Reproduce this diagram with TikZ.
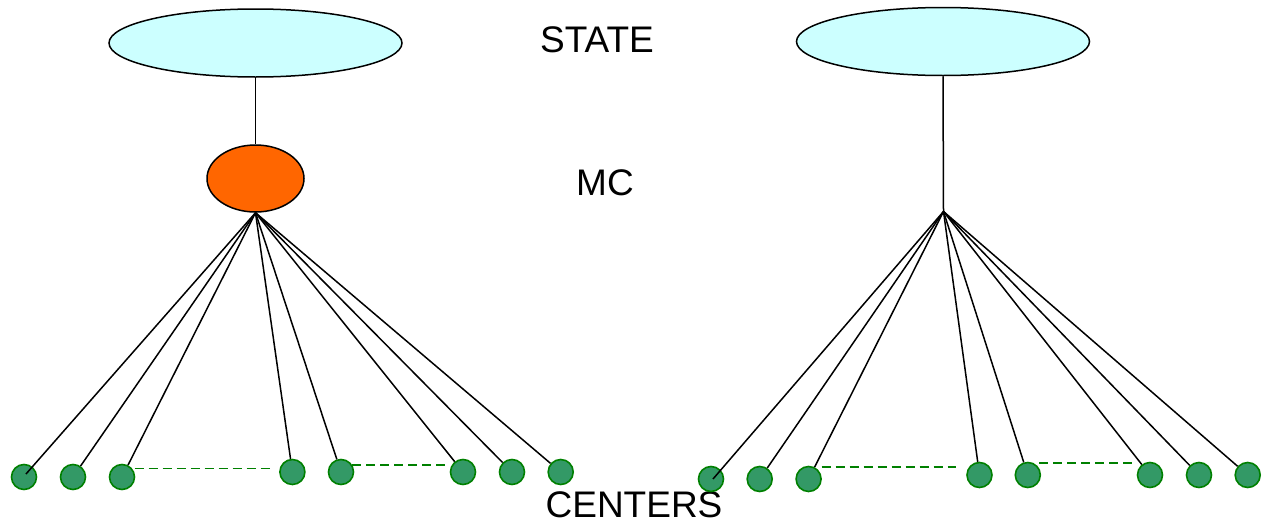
\documentclass[tikz,border=0pt]{standalone}
\usepackage{fontspec}
\setmainfont{Liberation Sans}
\usetikzlibrary{shapes.geometric,calc}
\definecolor{statefill}{HTML}{CCFFFF}
\definecolor{mcfill}{HTML}{FF6600}
\definecolor{cfill}{HTML}{339966}
\definecolor{cline}{HTML}{008000}
\tikzset{
  statebox/.style={ellipse,draw=black,line width=1.5pt,fill=statefill,minimum width=293pt,minimum height=68pt,inner sep=0pt},
  mcbox/.style={ellipse,draw=black,line width=1.5pt,fill=mcfill,minimum width=97pt,minimum height=67pt,inner sep=0pt},
  center/.style={circle,draw=cline,line width=1.6pt,fill=cfill,minimum size=25pt,inner sep=0pt},
  link/.style={draw=black,line width=1.5pt},
  dashline/.style={draw=cline,line width=1.5pt,dash pattern=on 9pt off 5pt},
  label/.style={font=\fontsize{37}{44}\selectfont,inner sep=0pt,anchor=center}
}
\begin{document}
\begin{tikzpicture}[x=1pt,y=-1pt]
\useasboundingbox (0,0) rectangle (1264,525);
% labels
\node[label] (tstate) at (597,40) {STATE};
\node[label] (tmc) at (605,183) {MC};
\node[label] (tcent) at (634,505) {CENTERS};
% left tree
\node[statebox] (s1) at (255.5,43) {};
\node[mcbox] (mc) at (255.5,178.5) {};
\draw[link] (s1) -- (mc);
\node[center] (l1) at (24,477) {};
\node[center] (l2) at (73,477) {};
\node[center] (l3) at (122,477) {};
\node[center] (l4) at (292.4,472) {};
\node[center] (l5) at (341,472) {};
\node[center] (l6) at (463,472) {};
\node[center] (l7) at (512,472) {};
\node[center] (l8) at (560.7,472) {};
\draw[link] (mc.south) -- ([xshift=2pt,yshift=3pt]l1.center);
\foreach \n in {l2,l3,l4,l5,l6,l7,l8} \draw[link] (mc.south) -- (\n);
\draw[dashline] ($(l3.center)+(12.7,-8.3)$) -- ($(l4.center)+(-22.4,-3.3)$);
\draw[dashline] ($(l5.center)+(11,-7)$) -- ($(l6.center)+(-13.3,-7)$);
% right tree
\node[statebox] (s2) at (943,41.5) {};
\coordinate (hubR) at (943.5,211.5);
\draw[link] (s2.south) -- (hubR);
\node[center] (r1) at (711,479) {};
\node[center] (r2) at (759.7,479) {};
\node[center] (r3) at (808.6,479) {};
\node[center] (r4) at (979.5,475) {};
\node[center] (r5) at (1027.8,475) {};
\node[center] (r6) at (1150,475) {};
\node[center] (r7) at (1199,475) {};
\node[center] (r8) at (1247.7,475) {};
\draw[link] (hubR) -- ([xshift=2pt]r1.center);
\foreach \n in {r2,r3,r4,r5,r6,r7,r8} \draw[link] (hubR) -- (\n);
\draw[dashline] ($(r3.center)+(12.9,-12.2)$) -- ($(r4.center)+(-23.9,-8.2)$);
\draw[dashline] ($(r5.center)+(11.6,-12)$) -- ($(r6.center)+(-14,-12)$);
\end{tikzpicture}
\end{document}
